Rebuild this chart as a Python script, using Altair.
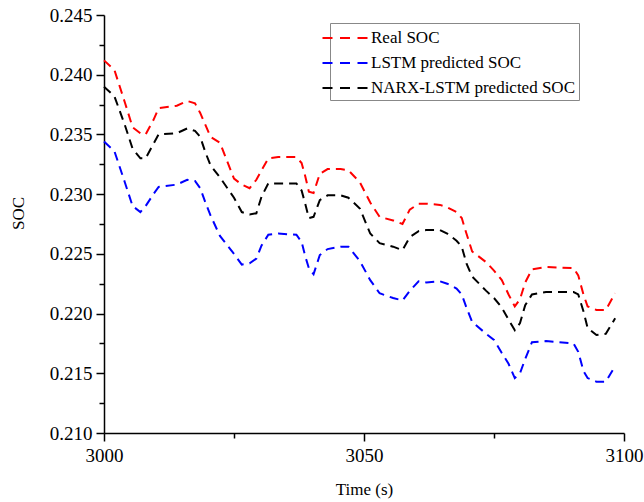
import altair as alt
import pandas as pd

time_s = [3000, 3002, 3004, 3005.5, 3007, 3008, 3009.5, 3010.5, 3014, 3016, 3017.5, 3018.5,
          3019.5, 3020.5, 3022.3, 3025, 3026.5, 3028, 3029.3, 3030.3, 3031.6, 3033.5, 3037,
          3038, 3038.7, 3039.4, 3040.3, 3041.5, 3043, 3045.5, 3047, 3049.2, 3051.2, 3053,
          3055.6, 3057.4, 3058.8, 3060.5, 3062, 3064.6, 3066, 3067.8, 3068.8, 3069.7, 3070.8,
          3073.5, 3075, 3076.5, 3077.8, 3079, 3080, 3081, 3082.3, 3085, 3090.3, 3091.2,
          3092.2, 3093, 3094.7, 3096.5, 3098.3]

real_soc = [0.2412, 0.2404, 0.2377, 0.2356, 0.2351, 0.2350, 0.2362, 0.2372, 0.2374, 0.2378,
            0.2376, 0.2368, 0.2358, 0.2348, 0.2343, 0.2313, 0.2308, 0.2305, 0.2312, 0.2320,
            0.2330, 0.2331, 0.2331, 0.2326, 0.2315, 0.2302, 0.2301, 0.2317, 0.2321, 0.2321,
            0.2320, 0.2310, 0.2293, 0.2281, 0.2278, 0.2275, 0.2287, 0.2292, 0.2292, 0.2291,
            0.2289, 0.2285, 0.2280, 0.2267, 0.2252, 0.2243, 0.2236, 0.2228, 0.2216, 0.2206,
            0.2212, 0.2226, 0.2237, 0.2239, 0.2238, 0.2232, 0.2216, 0.2206, 0.2203, 0.2203,
            0.2217]

lstm_soc = [0.2344, 0.2336, 0.2310, 0.2290, 0.2285, 0.2290, 0.2300, 0.2306, 0.2308, 0.2312,
            0.2311, 0.2305, 0.2293, 0.2282, 0.2265, 0.2250, 0.2241, 0.2242, 0.2246, 0.2257,
            0.2266, 0.2267, 0.2266, 0.2260, 0.2248, 0.2238, 0.2233, 0.2249, 0.2254, 0.2256,
            0.2256, 0.2244, 0.2228, 0.2217, 0.2213, 0.2211, 0.2219, 0.2227, 0.2226, 0.2227,
            0.2225, 0.2221, 0.2216, 0.2205, 0.2193, 0.2183, 0.2178, 0.2167, 0.2158, 0.2146,
            0.2150, 0.2162, 0.2176, 0.2177, 0.2175, 0.2168, 0.2152, 0.2146, 0.2143, 0.2143,
            0.2156]

narx_soc = [0.2390, 0.2382, 0.2358, 0.2338, 0.2330, 0.2330, 0.2342, 0.2350, 0.2351, 0.2355,
            0.2353, 0.2348, 0.2335, 0.2324, 0.2314, 0.2297, 0.2285, 0.2283, 0.2284, 0.2298,
            0.2309, 0.2309, 0.2309, 0.2303, 0.2292, 0.2280, 0.2281, 0.2295, 0.2299, 0.2299,
            0.2297, 0.2288, 0.2267, 0.2259, 0.2256, 0.2253, 0.2264, 0.2269, 0.2270, 0.2270,
            0.2267, 0.2261, 0.2256, 0.2242, 0.2231, 0.2219, 0.2213, 0.2205, 0.2195, 0.2186,
            0.2192, 0.2207, 0.2216, 0.2218, 0.2218, 0.2216, 0.2202, 0.2188, 0.2182, 0.2183,
            0.2196]

series_names = ["Real SOC", "LSTM predicted SOC", "NARX-LSTM predicted SOC"]
series_colors = ["#ff0000", "#0000ff", "#000000"]
x_ticks = [3000, 3025, 3050, 3075, 3100]
y_ticks = [0.21, 0.2125, 0.215, 0.2175, 0.22, 0.2225, 0.225, 0.2275, 0.23,
           0.2325, 0.235, 0.2375, 0.24, 0.2425, 0.245]

rows = []
for name, vals in zip(series_names, [real_soc, lstm_soc, narx_soc]):
    for i, (t, v) in enumerate(zip(time_s, vals)):
        rows.append({"t": t, "soc": v, "series": name, "order": i})
df = pd.DataFrame(rows)

FONT = "Liberation Serif"

chart = alt.Chart(df).mark_line(strokeWidth=2, strokeDash=[9, 6]).encode(
    x=alt.X("t:Q", scale=alt.Scale(domain=[3000, 3100], nice=False, zero=False),
            axis=alt.Axis(values=x_ticks, title="Time (s)", labelFlush=False,
                          labelExpr="datum.value % 50 == 0 ? format(datum.value, 'd') : ''",
                          tickSize={"condition": {"test": "datum.value % 50 == 0", "value": 8}, "value": 5},
                          labelPadding=5, titlePadding=16)),
    y=alt.Y("soc:Q", scale=alt.Scale(domain=[0.21, 0.245], nice=False, zero=False),
            axis=alt.Axis(values=y_ticks, title="SOC", labelFlush=False, titleY=198,
                          labelExpr="round(datum.value*10000) % 50 == 0 ? format(datum.value, '.3f') : ''",
                          tickSize={"condition": {"test": "round(datum.value*10000) % 50 == 0", "value": 8}, "value": 5},
                          labelPadding=4, titlePadding=22)),
    color=alt.Color("series:N",
                    scale=alt.Scale(domain=series_names, range=series_colors),
                    legend=alt.Legend(title=None, orient="none", legendX=226, legendY=8,
                                      symbolType="M-2.25,0H2.25", symbolSize=400,
                                      symbolStrokeWidth=2, symbolDash=[10, 7.5],
                                      labelFont=FONT, labelFontSize=17, labelColor="#000",
                                      labelLimit=400, rowPadding=6, labelOffset=15,
                                      strokeColor="#888", padding=4, fillColor="white")),
    order="order:Q",
).properties(
    width=520, height=418,
    padding={"left": 104, "top": 15, "right": 20, "bottom": 69},
    autosize=alt.AutoSizeParams(type="none"),
    background="white",
).configure_view(stroke=None).configure_axis(
    domainColor="#000", domainWidth=1.5, tickColor="#000", tickWidth=1.5, grid=False,
    labelFont=FONT, labelFontSize=19, labelColor="#000",
    titleFont=FONT, titleFontSize=17, titleFontWeight="normal", titleColor="#000",
)

chart.save("out.html", embed_options={"renderer": "svg", "actions": False})
